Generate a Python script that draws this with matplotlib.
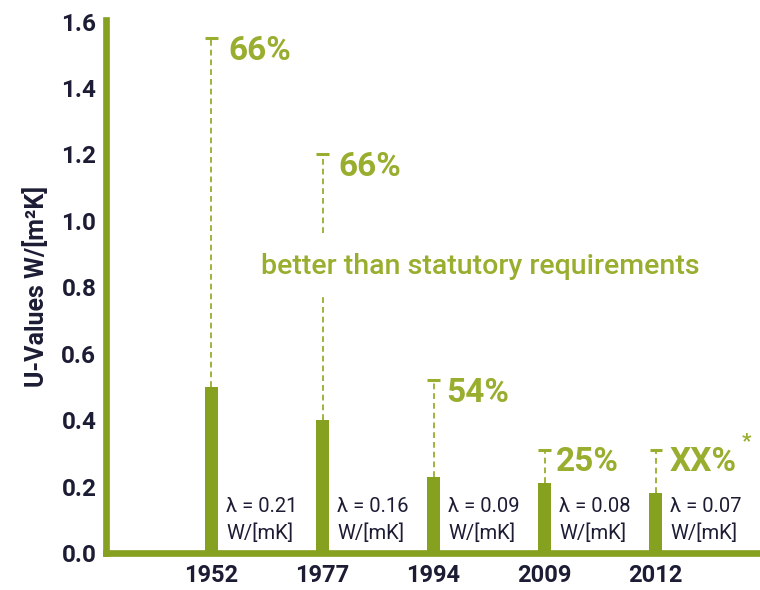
import matplotlib
matplotlib.use("Agg")
import matplotlib.pyplot as plt

# ---- data ----
years = ["1952", "1977", "1994", "2009", "2012"]
u_values = [0.50, 0.40, 0.23, 0.21, 0.18]
requirements = [1.55, 1.20, 0.52, 0.31, 0.31]
pct_labels = ["66%", "66%", "54%", "25%", "XX%"]
lambda_labels = ["λ = 0.21", "λ = 0.16", "λ = 0.09", "λ = 0.08", "λ = 0.07"]
lambda_unit = "W/[mK]"
y_ticks = [0.0, 0.2, 0.4, 0.6, 0.8, 1.0, 1.2, 1.4, 1.6]
note_text = "better than statutory requirements"

BAR = "#86a020"
TXT_GREEN = "#98ae2e"
DARK = "#1c1c34"

plt.rcParams['font.family'] = ['Roboto', 'DejaVu Sans']

fig = plt.figure(figsize=(7.6, 5.9), dpi=100)
ax = fig.add_axes([106/760, 37/590, 1 - 106/760, 533/590])

x = list(range(len(years)))
ax.bar(x, u_values, width=0.117, color=BAR, zorder=3)

# dashed requirement lines with caps
for i, (u, r) in enumerate(zip(u_values, requirements)):
    if i == 1:
        segs = [(u, 0.777), (0.964, r)]
    else:
        segs = [(u, r)]
    for a, b in segs:
        ax.plot([i, i], [a, b], color=TXT_GREEN, lw=1.3, ls=(0, (3.2, 2.2)), zorder=2)
    ax.plot([i - 0.055, i + 0.055], [r, r], color=TXT_GREEN, lw=2.2, solid_capstyle='butt', zorder=2)

# percentage labels
pct_dx = [0.15, 0.145, 0.11, 0.105, 0.125]
for i, (r, lab) in enumerate(zip(requirements, pct_labels)):
    ax.text(i + pct_dx[i], r - 0.037, lab, ha='left', va='center',
            fontsize=24, fontweight='bold', color=TXT_GREEN)
ax.text(4 + 0.815, 0.335, "*", ha='center', va='center', fontsize=15,
        fontweight='bold', color=TXT_GREEN)

# lambda labels
for i, lab in enumerate(lambda_labels):
    ax.text(i + 0.13, 0.139, lab, ha='left', va='center', fontsize=14.5, color=DARK)
    ax.text(i + 0.13, 0.060, lambda_unit, ha='left', va='center', fontsize=14.5, color=DARK)

ax.text(2.42, 0.863, note_text, ha='center', va='center', fontsize=20.5,
        fontweight='medium', color=TXT_GREEN)

ax.set_xlim(-0.95, 4.94)
ax.set_ylim(0, 1.605)
ax.set_xticks(x)
ax.set_xticklabels(years, fontsize=17, fontweight='bold', color=DARK)
ax.set_yticks(y_ticks)
ax.set_yticklabels([f"{v:.1f}" for v in y_ticks], fontsize=17.5, fontweight='bold', color=DARK)
ax.tick_params(axis='both', length=0)
ax.tick_params(axis='y', pad=7)
ax.tick_params(axis='x', pad=8)
ax.set_ylabel("U-Values W/[m²K]", fontsize=18, fontweight='bold', color=DARK, labelpad=9)

for s in ['top', 'right']:
    ax.spines[s].set_visible(False)
for s in ['left', 'bottom']:
    ax.spines[s].set_color(BAR)
    ax.spines[s].set_linewidth(4.8)
    ax.spines[s].set_capstyle('projecting')

fig.savefig("out.png", dpi=100)
